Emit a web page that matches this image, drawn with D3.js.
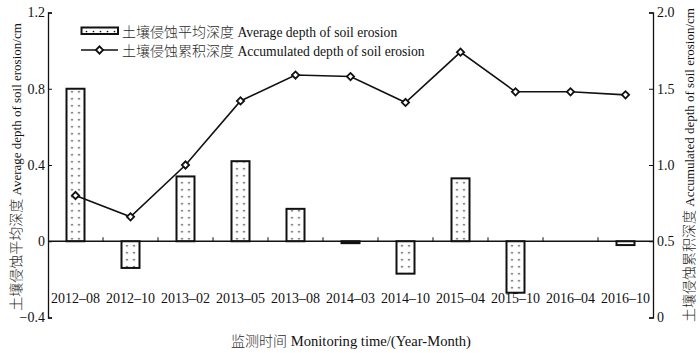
<!DOCTYPE html>
<html>
<head>
<meta charset="utf-8">
<script src="https://cdn.jsdelivr.net/npm/d3@7"></script>
<style>
  html, body { margin: 0; padding: 0; background: #fff; }
  svg text { font-family: "Liberation Serif", "Noto Sans CJK SC", serif; fill: #111; }
</style>
</head>
<body>
<svg id="chart" width="700" height="353"></svg>
<script>
const categories = ["2012–08","2012–10","2013–02","2013–05","2013–08","2014–03","2014–10","2015–04","2015–10","2016–04","2016–10"];
const avgDepth = [0.80, -0.14, 0.34, 0.42, 0.17, -0.01, -0.17, 0.33, -0.27, 0, -0.02];
const cumDepth = [0.80, 0.66, 1.00, 1.42, 1.59, 1.58, 1.41, 1.74, 1.48, 1.48, 1.46];
const leftTicks = [-0.4, 0, 0.4, 0.8, 1.2];
const leftTickLabels = ["−0.4", "0", "0.4", "0.8", "1.2"];
const rightTicks = [0, 0.5, 1.0, 1.5, 2.0];
const rightTickLabels = ["0", "0.5", "1.0", "1.5", "2.0"];
const legendLabels = [
  ["土壤侵蚀平均深度", "Average depth of soil erosion"],
  ["土壤侵蚀累积深度", "Accumulated depth of soil erosion"]
];
const leftTitle = ["土壤侵蚀平均深度", "Average depth of soil erosion/cm"];
const rightTitle = ["土壤侵蚀累积深度", "Accumulated depth of soil erosion/cm"];
const xTitle = ["监测时间", "Monitoring time/(Year-Month)"];

const svg = d3.select("#chart");
const X0 = 48, X1 = 653, YT = 12.5, YB = 317.5;

const x = d3.scaleBand().domain(categories).range([X0, X1]).paddingInner(0).paddingOuter(0);
const yL = d3.scaleLinear().domain([-0.4, 1.2]).range([YB, YT]);
const yR = d3.scaleLinear().domain([0, 2.0]).range([YB, YT]);
const barW = 18;
const y0 = yL(0);

// patterns
const defs = svg.append("defs");
function makePattern(id, ox, oy) {
  const p = defs.append("pattern").attr("id", id)
    .attr("patternUnits", "userSpaceOnUse")
    .attr("x", ox).attr("y", oy).attr("width", 7).attr("height", 7);
  p.append("rect").attr("width", 7).attr("height", 7).attr("fill", "#fff");
  p.append("circle").attr("cx", 3.5).attr("cy", 3.5).attr("r", 0.85).attr("fill", "#111");
}
categories.forEach((c, i) => {
  const bx = x(c) + x.bandwidth() / 2 - barW / 2;
  makePattern("dots" + i, bx + 2, y0 + 1);
});

// bars
svg.append("g").selectAll("rect").data(categories).join("rect")
  .attr("x", (c) => x(c) + x.bandwidth() / 2 - barW / 2)
  .attr("width", barW)
  .attr("y", (c, i) => Math.min(yL(avgDepth[i]), y0))
  .attr("height", (c, i) => Math.abs(yL(avgDepth[i]) - y0))
  .attr("fill", (c, i) => `url(#dots${i})`)
  .attr("stroke", (c, i) => avgDepth[i] === 0 ? "none" : "#111")
  .attr("stroke-width", 2);

// zero line with boundary ticks
const zg = svg.append("g");
zg.append("line").attr("x1", X0).attr("x2", X1).attr("y1", y0).attr("y2", y0)
  .attr("stroke", "#111").attr("stroke-width", 1.3);
zg.selectAll("line.tk").data(categories.slice(1)).join("line").attr("class", "tk")
  .attr("x1", (c) => x(c)).attr("x2", (c) => x(c))
  .attr("y1", y0).attr("y2", y0 - 4)
  .attr("stroke", "#111").attr("stroke-width", 1);

// x labels
const xAxis = svg.append("g").attr("transform", `translate(0,${YB - 19})`)
  .call(d3.axisBottom(x).tickSize(0).tickPadding(0));
xAxis.select(".domain").remove();
xAxis.selectAll("text").attr("font-size", 14).attr("dy", "0.32em")
  .style("font-family", "'Liberation Serif', serif");

// left axis
const la = svg.append("g").attr("transform", `translate(${X0},0)`)
  .call(d3.axisLeft(yL).tickValues(leftTicks).tickSize(-4).tickPadding(3)
    .tickFormat((d, i) => leftTickLabels[i]));
la.select(".domain").attr("stroke", "#111").attr("stroke-width", 1.3);
la.selectAll(".tick line").attr("stroke", "#111");
la.selectAll("text").attr("font-size", 14).style("font-family", "'Liberation Serif', serif");

// right axis
const ra = svg.append("g").attr("transform", `translate(${X1},0)`)
  .call(d3.axisRight(yR).tickValues(rightTicks).tickSize(-4).tickPadding(4)
    .tickFormat((d, i) => rightTickLabels[i]));
ra.select(".domain").attr("stroke", "#111").attr("stroke-width", 1.3);
ra.selectAll(".tick line").attr("stroke", "#111");
ra.selectAll("text").attr("font-size", 14).style("font-family", "'Liberation Serif', serif");

// line
const cx = (c) => x(c) + x.bandwidth() / 2;
const line = d3.line().x((d, i) => cx(categories[i])).y((d) => yR(d));
svg.append("path").datum(cumDepth).attr("d", line)
  .attr("fill", "none").attr("stroke", "#111").attr("stroke-width", 1.6);
const diamond = d3.symbol().type(d3.symbolSquare).size(26);
svg.append("g").selectAll("path").data(cumDepth).join("path")
  .attr("d", diamond)
  .attr("transform", (d, i) => `translate(${cx(categories[i])},${yR(d)}) rotate(45)`)
  .attr("fill", "#fff").attr("stroke", "#111").attr("stroke-width", 1.8);

// legend
const lg = svg.append("g");
makePattern("dotsLegend", 83, 28);
lg.append("rect").attr("x", 81.5).attr("y", 27.5).attr("width", 36.5).attr("height", 6.5)
  .attr("fill", "url(#dotsLegend)").attr("stroke", "#111").attr("stroke-width", 2);
lg.append("line").attr("x1", 81).attr("x2", 118).attr("y1", 50).attr("y2", 50)
  .attr("stroke", "#111").attr("stroke-width", 1.6);
lg.append("path").attr("d", diamond).attr("transform", "translate(99.5,50) rotate(45)")
  .attr("fill", "#fff").attr("stroke", "#111").attr("stroke-width", 1.8);

function twoPart(sel, parts, enSize) {
  sel.append("tspan").attr("font-size", 14).attr("font-weight", 300)
    .style("font-family", "'Noto Sans CJK SC', sans-serif").style("fill", "#2a2a2a").text(parts[0]);
  sel.append("tspan").attr("font-size", enSize).text(" " + parts[1]);
}
legendLabels.forEach((lab, i) => {
  const t = lg.append("text").attr("x", 122).attr("y", 31 + i * 19).attr("dy", "0.35em");
  twoPart(t, lab, 13.6);
});

// axis titles
const lt = svg.append("text").attr("text-anchor", "middle")
  .attr("transform", `translate(15,${(YT + YB) / 2 + 2}) rotate(-90)`).attr("dy", "0.35em");
twoPart(lt, leftTitle, 13);
const rt = svg.append("text").attr("text-anchor", "middle")
  .attr("transform", `translate(688,${(YT + YB) / 2}) rotate(-90)`).attr("dy", "0.35em");
twoPart(rt, rightTitle, 13);
const xt = svg.append("text").attr("text-anchor", "middle")
  .attr("x", 351).attr("y", 340).attr("dy", "0.35em");
twoPart(xt, xTitle, 14.6);
</script>
</body>
</html>
